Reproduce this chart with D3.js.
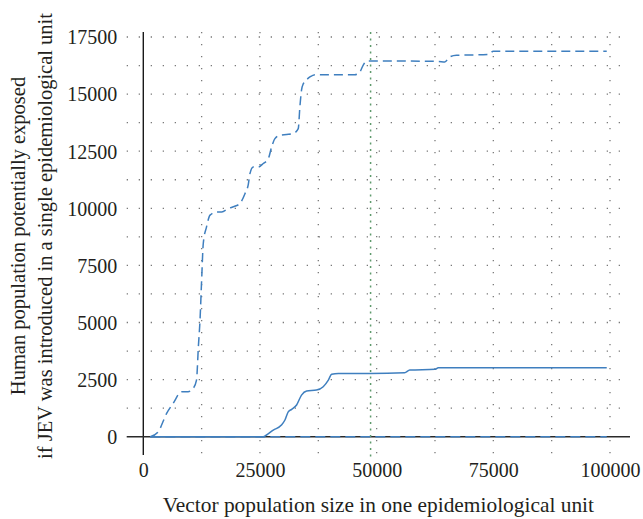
<!DOCTYPE html>
<html>
<head>
<meta charset="utf-8">
<script src="https://cdn.jsdelivr.net/npm/d3@7"></script>
<style>
  html, body { margin: 0; padding: 0; background: #fff; }
  svg { display: block; }
  text { font-family: "Liberation Serif", "DejaVu Serif", serif; fill: #231f20; }
</style>
</head>
<body>
<svg id="chart" width="643" height="519"></svg>
<script>
// Vector population size (x) and exposed human population (y) per scenario
const dashedVector = [1500, 3200, 5000, 6400, 8200, 9600, 10700, 11400, 11800, 12150, 12500, 12850, 13550, 14300, 15700, 16800, 18200, 19600, 20700, 21800, 22500, 22850, 23550, 24650, 25700, 26800, 27500, 28200, 29300, 30700, 32100, 33200, 33550, 33900, 34300, 35000, 35700, 36800, 45300, 46400, 47100, 47850, 53500, 63200, 64600, 65700, 67100, 73900, 75000, 99300];
const dashedExposed = [0, 220, 1020, 1460, 1970, 1970, 2120, 2480, 3940, 5100, 6860, 8460, 9190, 9700, 9840, 9840, 9990, 10090, 10210, 10650, 11050, 11520, 11810, 11810, 11960, 12180, 12690, 13050, 13200, 13230, 13270, 13490, 14440, 15170, 15460, 15630, 15750, 15850, 15850, 15970, 16260, 16450, 16450, 16430, 16410, 16630, 16700, 16730, 16880, 16880];

const solidVector = [1500, 25700, 26400, 27850, 29600, 30350, 31050, 31800, 32850, 33900, 35000, 37100, 38550, 39650, 40350, 41800, 48600, 56000, 57100, 62500, 63200, 99300];
const solidExposed = [0, 0, 75, 290, 510, 730, 1090, 1200, 1390, 1820, 2000, 2040, 2190, 2480, 2730, 2770, 2770, 2800, 2920, 2950, 3020, 3020];

const zeroVector = [1500, 99300];
const zeroExposed = [0, 0];

// Vertical reference marker on the vector axis
const markerVector = 48700;

const xTickValues = [0, 25000, 50000, 75000, 100000];
const yTickValues = [0, 2500, 5000, 7500, 10000, 12500, 15000, 17500];

const xTitle = "Vector population size in one epidemiological unit";
const yTitleLines = ["Human population potentially exposed", "if JEV was introduced in a single epidemiological unit"];

const svg = d3.select("#chart");

const x = d3.scaleLinear().domain([0, 100000]).range([143.3, 610]);
const y = d3.scaleLinear().domain([0, 17500]).range([436.7, 37]);

// Frame extents of the plotting region
const frameLeft = 126.7, frameRight = 630, frameTop = 32, frameBottom = 455;

const lineColor = "#3f7fbf";
const gridColor = "#7a7a7a";

// Dotted grid
const grid = svg.append("g");
const hGrid = d3.range(1250, 17501, 1250);
grid.selectAll("line.h").data(hGrid).join("line")
  .attr("x1", frameLeft).attr("x2", frameRight - 8)
  .attr("y1", d => y(d)).attr("y2", d => y(d))
  .attr("stroke", gridColor).attr("stroke-width", 1.3)
  .attr("stroke-dasharray", "1.3,10.7");
const vGrid = d3.range(12500, 100001, 12500);
grid.selectAll("line.v").data(vGrid).join("line")
  .attr("x1", d => x(d)).attr("x2", d => x(d))
  .attr("y1", frameTop).attr("y2", frameBottom)
  .attr("stroke", gridColor).attr("stroke-width", 1.3)
  .attr("stroke-dasharray", "1.3,10.7");

// Axis lines through zero
svg.append("line")
  .attr("x1", x(0)).attr("x2", x(0)).attr("y1", frameTop).attr("y2", frameBottom)
  .attr("stroke", "#1a1a1a").attr("stroke-width", 1.4);
svg.append("line")
  .attr("x1", frameLeft).attr("x2", frameRight).attr("y1", y(0)).attr("y2", y(0))
  .attr("stroke", "#2a2a2a").attr("stroke-width", 1.4);

// Marker line
svg.append("line")
  .attr("x1", x(markerVector)).attr("x2", x(markerVector))
  .attr("y1", frameTop).attr("y2", frameBottom + 4)
  .attr("stroke", "#5e9a6c").attr("stroke-width", 1.5)
  .attr("stroke-dasharray", "2,4.5");

// Series
const line = d3.line()
  .x(d => x(d[0])).y(d => y(d[1]))
  .curve(d3.curveMonotoneX);

svg.append("path")
  .datum(d3.zip(zeroVector, zeroExposed))
  .attr("d", line).attr("fill", "none")
  .attr("stroke", lineColor).attr("stroke-width", 1.6)
  .attr("stroke-dasharray", "10,5");

svg.append("path")
  .datum(d3.zip(solidVector, solidExposed))
  .attr("d", line).attr("fill", "none")
  .attr("stroke", lineColor).attr("stroke-width", 1.5);

svg.append("path")
  .datum(d3.zip(dashedVector, dashedExposed))
  .attr("d", line).attr("fill", "none")
  .attr("stroke", lineColor).attr("stroke-width", 1.5)
  .attr("stroke-dasharray", "9,5");

// Tick labels
const yAxis = svg.append("g")
  .attr("transform", `translate(${x(0) - 26},0)`)
  .call(d3.axisLeft(y).tickValues(yTickValues).tickSize(0).tickPadding(0).tickFormat(d3.format("d")));
yAxis.select(".domain").remove();
yAxis.selectAll("text")
  .attr("font-family", "Liberation Serif, DejaVu Serif, serif")
  .attr("font-size", 20).attr("fill", "#231f20").attr("dy", "0.34em");

const xAxis = svg.append("g")
  .attr("transform", `translate(0,${y(0) + 26})`)
  .call(d3.axisBottom(x).tickValues(xTickValues).tickSize(0).tickPadding(0).tickFormat(d3.format("d")));
xAxis.select(".domain").remove();
xAxis.selectAll("text")
  .attr("font-family", "Liberation Serif, DejaVu Serif, serif")
  .attr("font-size", 20).attr("fill", "#231f20").attr("dy", "0.71em");

// Axis titles
svg.append("text")
  .attr("x", (frameLeft + frameRight) / 2).attr("y", 512)
  .attr("text-anchor", "middle").attr("font-size", 21.4)
  .text(xTitle);

const yTitle = svg.append("text")
  .attr("transform", "translate(0,236) rotate(-90)")
  .attr("text-anchor", "middle").attr("font-size", 20.5);
yTitle.selectAll("tspan").data(yTitleLines).join("tspan")
  .attr("x", 0).attr("y", (d, i) => 25 + i * 27)
  .text(d => d);
</script>
</body>
</html>
